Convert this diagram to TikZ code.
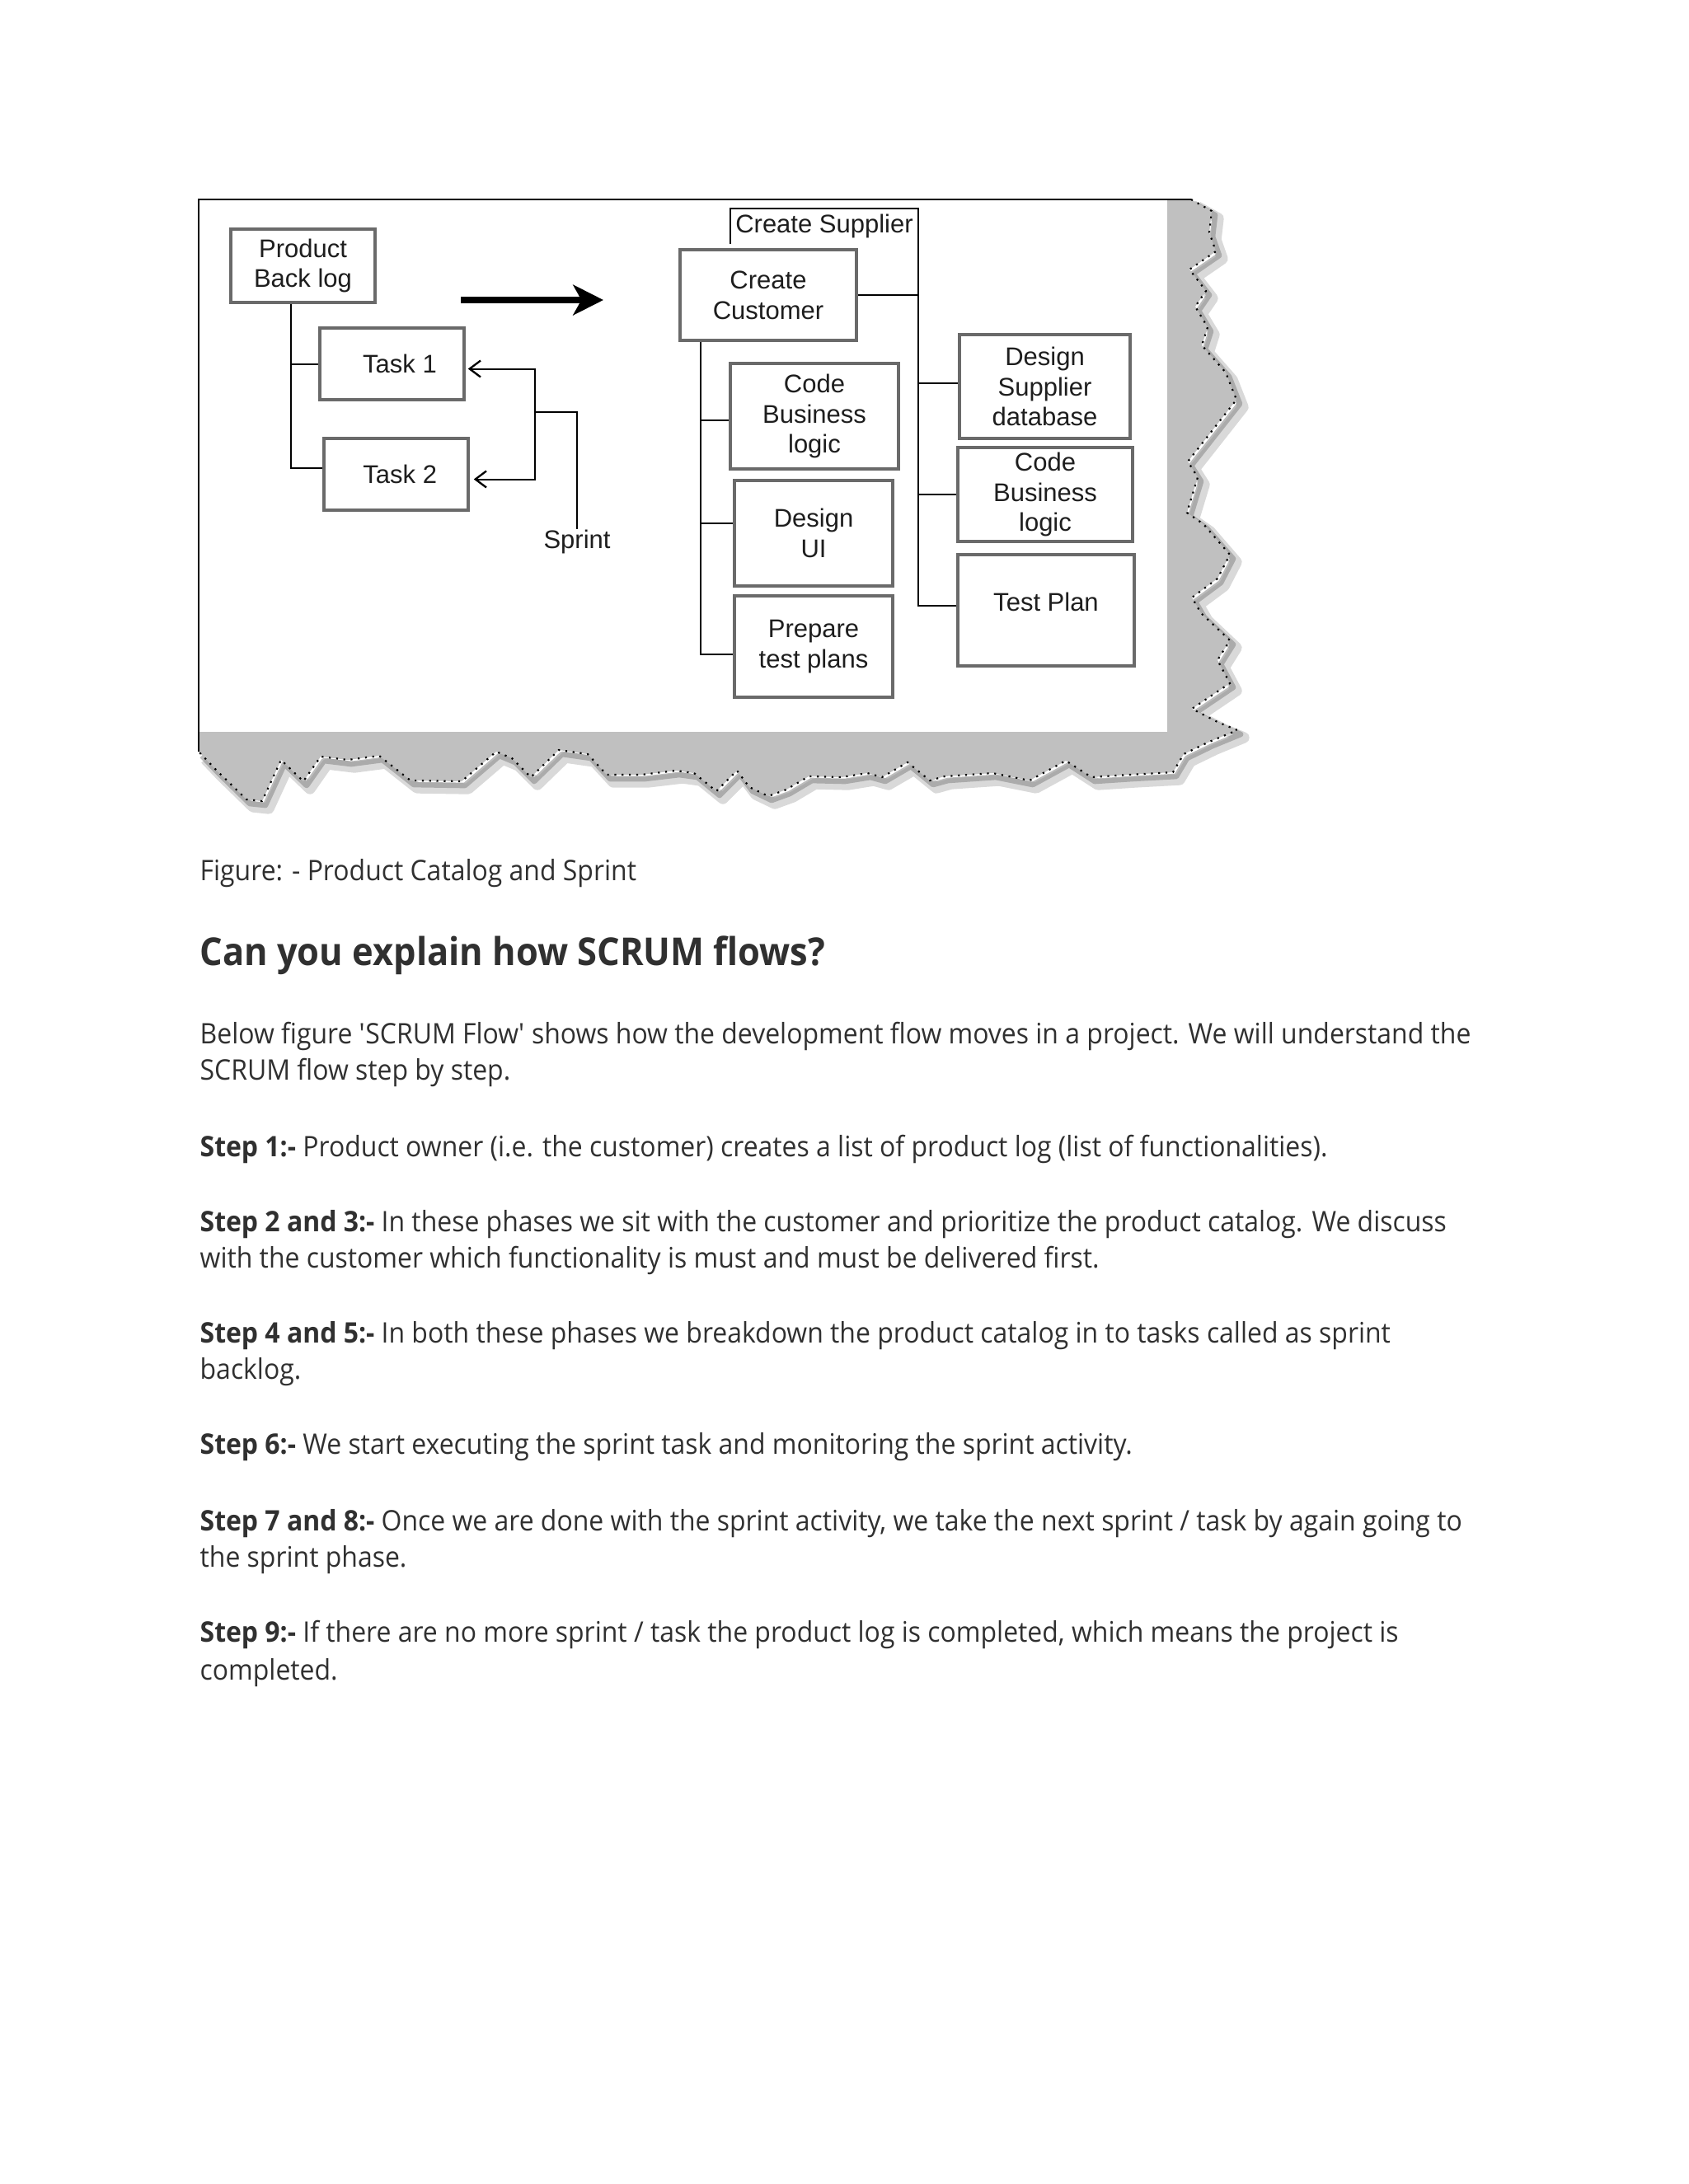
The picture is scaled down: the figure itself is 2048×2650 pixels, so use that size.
\documentclass[tikz,border=0pt]{standalone}
\usepackage{fontspec}
\setmainfont[FakeStretch=0.93]{Open Sans}
\newfontfamily\diagfont{Liberation Sans}
\usetikzlibrary{calc,arrows.meta}
\definecolor{txt}{HTML}{303030}
\definecolor{diagtxt}{HTML}{1E1E1E}
\definecolor{boxgray}{HTML}{6A6A6A}
\definecolor{shadowgray}{HTML}{C0C0C0}
\newcommand{\pxu}{0.10542mm}
\begin{document}
\begin{tikzpicture}[x=0.10542mm,y=-0.10542mm,
  box/.style={draw=boxgray,line width=1.05pt,fill=white,align=center,
    font=\diagfont\fontsize{9.3}{11.05}\selectfont,text=diagtxt,inner sep=0pt},
  plain/.style={align=center,font=\diagfont\fontsize{9.3}{11.05}\selectfont,text=diagtxt,inner sep=0pt},
  conn/.style={line width=0.6pt,draw=black},
  sprintarrow/.style={conn,-{Straight Barb[length=4pt,width=6pt,line width=0.7pt]}},
  body/.style={anchor=base west,inner sep=0pt,font=\fontsize{10.3}{13}\selectfont,text=txt}]
\useasboundingbox (0,0) rectangle (2048,2650);
\fill[white] (0,0) rectangle (2048,2650);

\def\jag{(1445,242) -- (1470,256) -- (1467,282) -- (1475,305) -- (1443,327) -- (1463,353) -- (1450,372) -- (1465,397) -- (1458,419) -- (1487,452) -- (1500,485) -- (1467,527) -- (1441,560) -- (1453,579) -- (1440,622) -- (1460,636) -- (1492,673) -- (1477,702) -- (1446,725) -- (1457,744) -- (1492,777) -- (1477,801) -- (1492,829) -- (1446,860) -- (1477,876) -- (1501,886) -- (1467,900) -- (1436,915) -- (1423,937) -- (1369,940) -- (1324,943) -- (1293,923) -- (1249,947) -- (1204,938) -- (1146,942) -- (1128,947) -- (1101,925) -- (1070,943) -- (1052,938) -- (1021,943) -- (981,942) -- (954,958) -- (932,966) -- (909,955) -- (894,935) -- (869,960) -- (842,938) -- (820,935) -- (778,940) -- (736,940) -- (713,915) -- (678,910) -- (644,943) -- (621,920) -- (602,912) -- (560,948) -- (498,947) -- (460,917) -- (422,922) -- (389,918) -- (368,948) -- (341,922) -- (318,972) -- (299,970) -- (261,933) -- (241,912)}

% soft shadow of the torn edge
\begin{scope}[shift={(8,9)}]
  \draw[gray!85,line width=4pt,opacity=0.35,line join=round] \jag;
\end{scope}
\begin{scope}[shift={(4,5)}]
  \draw[gray!95,line width=2pt,opacity=0.55,line join=round] \jag;
\end{scope}
% gray paper area
\fill[shadowgray] (1416,242) -- \jag -- (241,888) -- (1416,888) -- cycle;
\draw[black,line width=0.65pt,dotted] \jag;
% frame
\draw[conn] (1445,242) -- (241,242) -- (241,912);

% left part
\node[box,minimum width=175*\pxu,minimum height=89*\pxu] (PB) at (367.5,322.5) {Product\\Back log};
\node[box,minimum width=175*\pxu,minimum height=87*\pxu] (T1) at (475.5,441.5) {\hspace*{2mm}Task 1};
\node[box,minimum width=175*\pxu,minimum height=87*\pxu] (T2) at (480.5,575.5) {\hspace*{1mm}Task 2};
\coordinate (pbx) at ($(PB.south west)+(75,0)$);
\draw[conn] (pbx) |- ($(T2.west)+(0,-8)$);
\draw[conn] (pbx |- T1.west) -- (T1.west);

\coordinate (ta) at (559,364);
\coordinate (tb) at (732,364);
\draw[line width=2.2pt,-{Stealth[length=11pt,width=11pt,inset=3pt]}] (ta) -- (tb);

\node[plain] (SP) at (700,657) {Sprint};
\coordinate (spj) at (649,500);
\draw[conn] (SP.north) |- (spj);
\draw[sprintarrow] (spj) |- ($(T1.east)+(3,6)$);
\draw[sprintarrow] (spj) |- ($(T2.east)+(5,6)$);

% right part
\node[plain,minimum width=226*\pxu,minimum height=41*\pxu] (CS) at (1000,274.5) {Create Supplier};
\node[box,minimum width=214*\pxu,minimum height=110*\pxu] (CC) at (932,358) {Create\\Customer};
\draw[conn] (CS.south west) -- (CS.north west) -- (CS.north east) |- (CC.east);

\node[box,minimum width=204*\pxu,minimum height=128*\pxu] (CBL1) at (988,505) {Code\\Business\\logic};
\node[box,minimum width=192*\pxu,minimum height=128*\pxu] (DUI) at (987,647) {Design\\UI};
\node[box,minimum width=192*\pxu,minimum height=123*\pxu] (PTP) at (987,784.5) {Prepare\\test plans};
\coordinate (lt) at ($(CC.south west)+(27,0)$);
\draw[conn] (lt) |- ($(PTP.west)+(0,9)$);
\draw[conn] ($(lt |- CBL1.west)+(0,5)$) -- ($(CBL1.west)+(0,5)$);
\draw[conn] ($(lt |- DUI.west)+(0,-12)$) -- ($(DUI.west)+(0,-12)$);

\node[box,minimum width=207*\pxu,minimum height=126*\pxu] (DSD) at (1267.5,469) {Design\\Supplier\\database};
\node[box,minimum width=212*\pxu,minimum height=114*\pxu] (CBL2) at (1268,600) {Code\\Business\\logic};
\node[box,minimum width=214*\pxu,minimum height=135*\pxu,text depth=6pt] (TP) at (1269,740.5) {Test Plan};
\coordinate (rt) at (CS.north east |- CC.east);
\draw[conn] (rt) |- ($(TP.west)+(0,-6)$);
\draw[conn] ($(rt |- DSD.west)+(0,-4)$) -- ($(DSD.west)+(0,-4)$);
\draw[conn] (rt |- CBL2.west) -- (CBL2.west);

% text
\node[body] (cap) at (242,1068) {Figure: - Product Catalog and Sprint};
\node[body,font=\fontsize{14}{17}\selectfont\bfseries] (head) at (242,1171) {Can you explain how SCRUM flows?};
\node[body] (l1) at (242,1266) {Below figure \textquotesingle SCRUM Flow\textquotesingle{} shows how the development flow moves in a project. We will understand the};
\node[body] (l2) at (242,1310) {SCRUM flow step by step.};
\node[body] (s1) at (242,1403) {\textbf{Step 1:-} Product owner (i.e. the customer) creates a list of product log (list of functionalities).};
\node[body] (s2) at (242,1494) {\textbf{Step 2 and 3:-} In these phases we sit with the customer and prioritize the product catalog. We discuss};
\node[body] (s2b) at (242,1538) {with the customer which functionality is must and must be delivered first.};
\node[body] (s4) at (242,1629) {\textbf{Step 4 and 5:-} In both these phases we breakdown the product catalog in to tasks called as sprint};
\node[body] (s4b) at (242,1673) {backlog.};
\node[body] (s6) at (242,1764) {\textbf{Step 6:-} We start executing the sprint task and monitoring the sprint activity.};
\node[body] (s7) at (242,1857) {\textbf{Step 7 and 8:-} Once we are done with the sprint activity, we take the next sprint / task by again going to};
\node[body] (s7b) at (242,1901) {the sprint phase.};
\node[body] (s9) at (242,1992) {\textbf{Step 9:-} If there are no more sprint / task the product log is completed, which means the project is};
\node[body] (s9b) at (242,2038) {completed.};
\end{tikzpicture}
\end{document}
